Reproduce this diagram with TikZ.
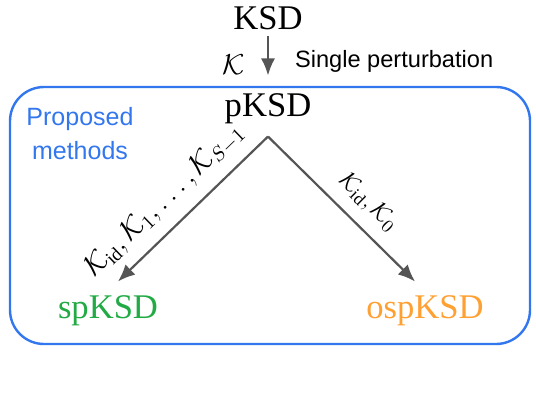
\documentclass[tikz,border=0pt]{standalone}
\usepackage{fontspec}
\setmainfont{Liberation Serif}
\setsansfont{Liberation Sans}
\usetikzlibrary{arrows.meta,positioning}
\definecolor{boxDraw}{HTML}{3377EE}
\definecolor{spColor}{HTML}{22AA44}
\definecolor{ospColor}{HTML}{FFA033}
\definecolor{arrDraw}{HTML}{555555}
\tikzset{
  method/.style ={font=\fontsize{17.3}{20}\selectfont, inner sep=1pt},
  note/.style   ={font=\sffamily\fontsize{11.8}{14}\selectfont, inner sep=1pt},
  klabel/.style ={font=\fontsize{12.5}{15}\selectfont, inner sep=2pt},
  arr/.style    ={-{Latex[length=3mm, width=2.5mm]}, draw=arrDraw, fill=arrDraw, line width=1.1pt},
}
\begin{document}
\begin{tikzpicture}[x=0.5pt, y=-0.5pt]
  \useasboundingbox (0,0) rectangle (536,418);
  % frame of the proposed methods
  \draw[boxDraw, line width=1.2pt, rounded corners=17pt] (10,87) rectangle (530,344);
  \node[text=boxDraw, align=center, inner sep=1pt, font=\sffamily\fontsize{12.5}{17}\selectfont] (prop) at (80,134) {Proposed\\methods};

  % nodes
  \node[method] (ksd)  at (268,18)  {KSD};
  \node[method] (pksd) at (268,109) {pKSD};
  \node[method, text=spColor]  (sp)  at (108,311) {spKSD};
  \node[method, text=ospColor] (osp) at (425,311) {ospKSD};
  \coordinate (apex)   at ([yshift=-5pt]pksd.south);
  \coordinate (spend)  at ([xshift=5pt, yshift=6pt]sp.north);
  \coordinate (ospend) at ([xshift=-5pt, yshift=6pt]osp.north);

  % connectors
  \draw[arr, shorten <=2pt, shorten >=8pt] (ksd) -- (pksd)
      node[pos=0.55, left=9pt, klabel, font=\fontsize{15}{18}\selectfont] (kk) {$\mathcal{K}$}
      node[pos=0.5, right=12pt, note] (single) {Single perturbation};
  \draw[arr] (apex) -- (spend)
      node[pos=0.57, sloped, above=4pt, klabel, font=\fontsize{13.6}{16}\selectfont] (lk) {$\mathcal{K}_{\mathrm{id}},\mathcal{K}_1,\ldots,\mathcal{K}_{S-1}$};
  \draw[arr] (apex) -- (ospend)
      node[pos=0.57, sloped, above=4pt, klabel] (rk) {$\mathcal{K}_{\mathrm{id}},\mathcal{K}_0$};
\end{tikzpicture}
\end{document}
